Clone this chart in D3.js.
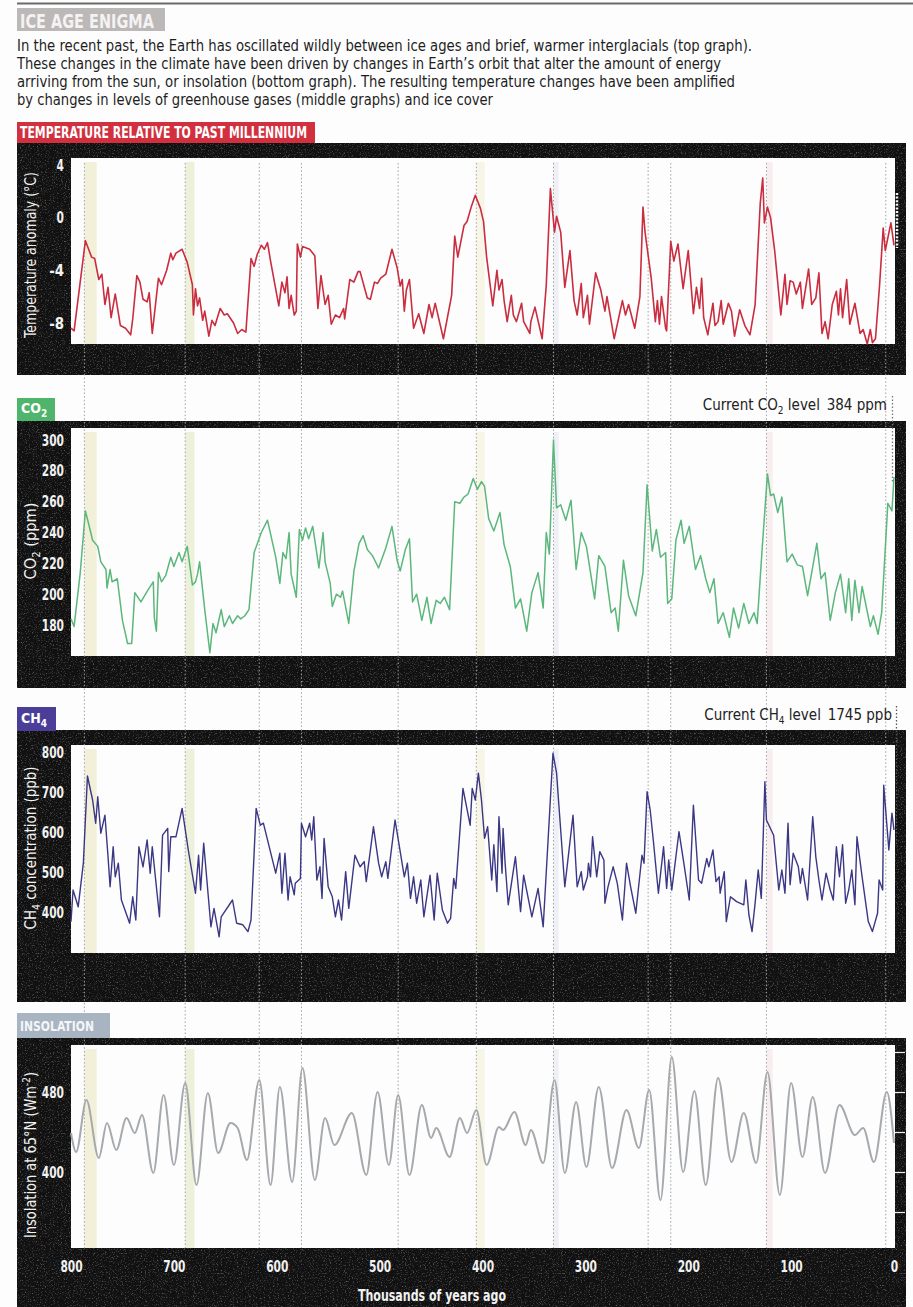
<!DOCTYPE html>
<html><head><meta charset="utf-8">
<script src="https://cdn.jsdelivr.net/npm/d3@7"></script>
<style>html,body{margin:0;padding:0;background:#fff;}svg{display:block;}</style>
</head><body>
<script>
// ---------------- DATA ----------------
const xTicks = [800,700,600,500,400,300,200,100,0];
const tempTicks = [4,0,-4,-8];
const co2Ticks = [300,280,260,240,220,200,180];
const ch4Ticks = [800,700,600,500,400];
const insTicks = [480,400];
const insRightTicks = [520,480,440,400,360];
const interglacials = [787,689,617,576,482,406,331,239,217,124,8];
const bands = [[787,775,'#f3f0da'],[689,680,'#eef1da'],[406,398,'#f7f5e6'],[331,326,'#eef0f6'],[124,118,'#f8edef']];

const tempData = [[800,-8.4],[797,-8.6],[786,-1.75],[780,-3.0],[777,-3.1],[773,-4.7],[770,-4.3],[767,-6.6],[764,-5.3],[761,-7.6],[757,-5.8],[752,-8.2],[747,-8.4],[742,-8.9],[740,-7.7],[736,-4.4],[733,-4.9],[730,-6.2],[726,-6.4],[724,-5.7],[721,-8.8],[715,-4.6],[712,-5.1],[707,-4.0],[703,-2.7],[701,-3.2],[698,-2.7],[692,-2.4],[687,-3.4],[682,-5.1],[681,-7.4],[679,-5.4],[677,-6.7],[675,-6.1],[672,-7.8],[670,-7.1],[666,-9.0],[663,-7.8],[660,-8.2],[655,-6.9],[651,-7.4],[648,-7.3],[642,-8.0],[638,-8.8],[634,-8.5],[630,-8.7],[625,-3.1],[622,-3.7],[619,-2.8],[615,-2.1],[612,-2.4],[609,-1.9],[606,-3.3],[598,-6.7],[595,-4.9],[592,-5.7],[590,-4.5],[588,-6.9],[586,-5.9],[583,-7.4],[581,-7.1],[580,-2.0],[577,-3.0],[575,-2.2],[568,-2.4],[563,-2.9],[560,-6.9],[557,-4.4],[553,-6.6],[550,-5.9],[547,-8.1],[543,-7.4],[539,-7.6],[535,-6.9],[534,-7.7],[529,-4.7],[525,-4.9],[521,-4.1],[519,-4.1],[512,-6.1],[509,-6.2],[505,-4.9],[502,-5.0],[499,-4.6],[494,-4.3],[488,-2.4],[483,-3.8],[480,-5.2],[478,-4.7],[476,-7.1],[474,-5.5],[471,-4.7],[467,-8.4],[462,-7.3],[457,-8.8],[452,-6.6],[449,-7.6],[446,-6.5],[438,-9.2],[430,-5.9],[427,-1.4],[424,-3.0],[418,-0.6],[415,-0.3],[411,0.8],[407,1.7],[402,0.7],[399,-0.3],[396,-3.0],[390,-6.7],[386,-4.0],[384,-5.5],[381,-4.7],[379,-6.3],[376,-7.9],[372,-5.9],[370,-7.4],[367,-7.9],[362,-6.5],[360,-7.9],[354,-8.8],[353,-7.9],[349,-6.8],[342,-9.2],[338,-5.1],[334,2.2],[330,-1.1],[328,0.1],[324,-1.1],[320,-5.3],[315,-2.5],[311,-6.3],[308,-7.4],[304,-5.0],[302,-7.6],[298,-5.9],[296,-8.1],[290,-4.2],[285,-5.5],[281,-7.1],[279,-6.0],[272,-9.2],[264,-6.3],[261,-7.4],[258,-6.6],[252,-8.4],[247,-6.0],[244,0.8],[242,-1.1],[236,-4.6],[232,-7.9],[230,-6.3],[228,-8.1],[226,-6.0],[222,-8.4],[221,-8.6],[217,-1.8],[214,-3.3],[210,-2.0],[205,-5.4],[200,-2.5],[195,-7.3],[192,-5.3],[189,-6.9],[187,-4.6],[185,-7.6],[181,-8.9],[176,-6.5],[174,-8.2],[171,-7.9],[168,-6.3],[166,-8.1],[161,-6.5],[158,-7.1],[155,-9.0],[150,-7.0],[145,-8.2],[140,-8.9],[135,-6.6],[130,1.1],[127.6,3.0],[126,-0.4],[123,0.8],[120,0.0],[116,-2.5],[110,-7.4],[106,-4.3],[104,-6.6],[101,-4.8],[98,-4.9],[95,-5.8],[91,-4.9],[89,-6.9],[83,-3.9],[80,-6.6],[76,-6.1],[73,-4.2],[70,-8.8],[67,-7.9],[64,-9.2],[60,-6.6],[56,-5.6],[54,-7.4],[52,-5.4],[50,-7.6],[46,-4.7],[43,-8.1],[38,-6.5],[33,-8.8],[30,-8.5],[26,-9.6],[23,-8.5],[21,-9.5],[18,-9.2],[14,-5.1],[10.5,-0.8],[8.5,-2.5],[3,-0.4],[0,-2.1]];

const co2Data = [[800,184],[797,179],[791,214],[786,254],[783,246],[779,235],[774,231],[771,221],[766,216],[765,204],[762,216],[760,208],[755,210],[750,183],[745,168],[741,168],[738,201],[732,195],[725,203],[720,208],[719,185],[717,176],[715,214],[712,208],[708,212],[703,224],[700,218],[695,227],[692,221],[687,231],[682,206],[679,208],[677,213],[675,221],[670,190],[665,162],[662,181],[659,175],[654,190],[651,179],[646,186],[643,181],[638,186],[635,184],[631,186],[627,190],[622,227],[615,240],[609,248],[601,224],[597,207],[594,227],[591,223],[588,240],[586,213],[581,198],[578,242],[575,235],[572,243],[569,236],[565,244],[559,217],[555,240],[553,221],[548,207],[546,192],[542,200],[538,198],[536,202],[530,181],[525,215],[520,233],[516,238],[512,229],[507,225],[501,217],[494,230],[488,244],[483,222],[480,215],[475,229],[471,236],[468,195],[464,200],[459,183],[454,198],[450,181],[445,196],[441,194],[437,198],[432,190],[427,260],[422,259],[418,263],[414,265],[409,275],[405,268],[401,273],[398,270],[394,249],[389,241],[383,253],[379,232],[373,218],[368,191],[363,197],[357,176],[352,201],[346,214],[341,191],[338,240],[335,226],[331,300],[328,256],[324,258],[319,248],[314,261],[309,216],[304,240],[299,231],[291,197],[287,225],[281,218],[275,188],[271,191],[268,176],[263,222],[258,199],[251,186],[244,214],[240,271],[235,228],[231,242],[227,224],[222,227],[220,194],[216,197],[212,235],[207,248],[204,233],[199,244],[193,216],[188,225],[183,210],[179,201],[175,210],[171,181],[166,188],[160,172],[156,191],[151,178],[146,194],[141,181],[136,188],[133,181],[128,231],[123,278],[120,264],[117,265],[113,253],[109,263],[104,221],[99,226],[94,219],[89,218],[84,199],[80,214],[75,233],[71,210],[67,214],[62,183],[57,201],[52,213],[47,188],[44,210],[41,183],[38,209],[34,188],[31,205],[23,179],[20,186],[15.5,174],[12,188],[6,259],[2,254],[0,276]];

const ch4Data = [[800,376],[798,455],[793,413],[788,522],[784,740],[779,680],[776,622],[774,688],[771,597],[767,642],[764,538],[762,463],[759,563],[757,488],[754,522],[751,430],[743,372],[740,438],[737,380],[734,563],[730,513],[726,580],[723,497],[721,563],[714,388],[711,592],[706,609],[705,501],[703,588],[698,588],[692,659],[686,555],[679,447],[676,542],[674,455],[671,572],[664,363],[661,409],[656,338],[654,388],[643,430],[639,372],[633,368],[628,351],[625,380],[620,659],[616,617],[613,622],[601,497],[597,547],[595,447],[592,547],[589,430],[587,488],[583,443],[582,472],[577,484],[576,622],[572,588],[568,622],[566,580],[564,638],[561,480],[558,513],[556,434],[554,584],[550,463],[546,438],[543,388],[540,430],[537,380],[533,501],[530,409],[524,542],[519,513],[515,526],[513,476],[506,613],[501,522],[498,488],[494,526],[492,484],[485,630],[476,488],[473,522],[470,434],[467,488],[464,422],[460,480],[457,388],[451,492],[447,380],[444,497],[439,405],[434,372],[431,384],[428,484],[426,459],[419,709],[412,617],[410,709],[407,680],[404,747],[401,680],[398,584],[395,613],[391,480],[389,568],[386,451],[384,638],[381,497],[380,609],[378,522],[375,418],[368,538],[363,401],[360,492],[352,388],[346,459],[341,363],[331.5,797],[328,747],[320,463],[312,642],[308,463],[304,501],[302,455],[298,488],[297,522],[295,488],[293,588],[289,488],[286,551],[282,530],[281,422],[278,463],[273,513],[269,472],[264,380],[260,522],[256,463],[251,397],[245,542],[243,522],[240,701],[237,655],[234,580],[229,447],[224,563],[221,459],[219,530],[216,455],[209,601],[204,517],[199,430],[195,667],[190,480],[187,472],[182,534],[180,513],[176,555],[173,476],[170,488],[169,447],[165,501],[163,376],[159,438],[157,434],[153,426],[146,418],[144,480],[141,392],[138,351],[135,422],[132,505],[129,434],[125.5,726],[124,630],[117,592],[112,455],[109,505],[106,447],[103,622],[101,468],[98,547],[93,513],[91,472],[89,509],[84,430],[79,638],[76,538],[73,480],[70,430],[66,497],[62,455],[59,430],[56,563],[53,488],[50,568],[47,422],[44,455],[41,505],[38,418],[36,588],[31,488],[25,376],[21,351],[16,397],[14.5,480],[11,455],[10,717],[5,555],[2,647],[0,605]];

const insData = [[800,439],[795,420],[785,472],[773,414],[765,449],[756,422],[746,454],[738,439],[731,457],[720,399],[710,477],[700,407],[689,489],[678,387],[667,479],[657,419],[645,449],[638,444],[629,412],[617,492],[606,387],[597,485],[585,390],[575,504],[563,392],[553,454],[544,427],[527,459],[513,397],[502,480],[491,407],[482,477],[471,397],[459,467],[450,434],[445,444],[432,415],[422,454],[415,439],[406,462],[396,407],[384,445],[380,442],[369,460],[358,427],[353,442],[341,409],[330,492],[320,399],[309,470],[299,405],[287,485],[274,404],[260,462],[248,424],[238,482],[227,372],[216,515],[205,400],[194,481],[183,387],[171,494],[158,410],[146,459],[134,409],[123,500],[111,377],[100,489],[89,415],[79,475],[67,399],[53,467],[38,437],[30,444],[19.5,410],[7,480],[0,429]];

const introLines = [
  "In the recent past, the Earth has oscillated wildly between ice ages and brief, warmer interglacials (top graph).",
  "These changes in the climate have been driven by changes in Earth\u2019s orbit that alter the amount of energy",
  "arriving from the sun, or insolation (bottom graph). The resulting temperature changes have been amplified",
  "by changes in levels of greenhouse gases (middle graphs) and ice cover"
];

// ---------------- LAYOUT ----------------
const W = 913, H = 1307;
const F = "'Liberation Sans Narrow','Arial Narrow','DejaVu Sans Condensed',sans-serif";
const svg = d3.select("body").append("svg").attr("width", W).attr("height", H)
  .style("font-family", F);
svg.append("rect").attr("width", W).attr("height", H).attr("fill", "#fdfdfd");

const defs = svg.append("defs");
const flt = defs.append("filter").attr("id","grain").attr("x",0).attr("y",0).attr("width","100%").attr("height","100%");
flt.append("feTurbulence").attr("type","fractalNoise").attr("baseFrequency","0.75").attr("numOctaves",2).attr("seed",5);
flt.append("feColorMatrix").attr("type","matrix").attr("values","0 0 0 0 1  0 0 0 0 1  0 0 0 0 1  0 0 0 3.2 -1.75");

const x = d3.scaleLinear().domain([800,0]).range([71,894]);
const PX0 = 71, PX1 = 895, BX0 = 17, BX1 = 906;
const DIGIT_W = 7.4;

// header
svg.append("line").attr("x1",17).attr("x2",913).attr("y1",3.5).attr("y2",3.5).attr("stroke","#6a6a6a").attr("stroke-width",2);
svg.append("rect").attr("x",17).attr("y",8).attr("width",148).attr("height",23).attr("fill","#bcb8b8");
svg.append("text").attr("x",20).attr("y",27.5).text("ICE AGE ENIGMA").attr("fill","#f4f2f2")
  .attr("font-size",20).attr("font-weight","bold").attr("textLength",134).attr("lengthAdjust","spacingAndGlyphs");
const introW = [735,704,718,476];
introLines.forEach((t,i)=>{
  svg.append("text").attr("x",17).attr("y",50.5 + i*18.3).text(t).attr("fill","#1e1e1e").attr("font-size",16)
    .attr("textLength",introW[i]).attr("lengthAdjust","spacingAndGlyphs");
});

// panels
const panels = [
  {key:"temp", black:[143,375], plot:[158,344], domain:[-9.6,4.53], ticks:tempTicks, data:tempData, color:"#c92d3f", width:1.6},
  {key:"co2", black:[421,688], plot:[428,656], domain:[159.9,307.8], ticks:co2Ticks, data:co2Data, color:"#5bb77c", width:1.5},
  {key:"ch4", black:[730,1002], plot:[745,953], domain:[297.5,817.5], ticks:ch4Ticks, data:ch4Data, color:"#3a3784", width:1.4},
  {key:"ins", black:[1038,1307], plot:[1045,1248], domain:[324,527], ticks:insTicks, data:insData, color:"#a6a9ad", width:2}
];

panels.forEach(p=>{
  p.y = d3.scaleLinear().domain(p.domain).range([p.plot[1], p.plot[0]]);
  svg.append("rect").attr("x",BX0).attr("y",p.black[0]).attr("width",BX1-BX0).attr("height",p.black[1]-p.black[0]).attr("fill","#111");
  svg.append("rect").attr("x",BX0).attr("y",p.black[0]).attr("width",BX1-BX0).attr("height",p.black[1]-p.black[0])
    .attr("fill","#fff").attr("filter","url(#grain)").attr("opacity",0.32);
  svg.append("rect").attr("x",PX0).attr("y",p.plot[0]).attr("width",PX1-PX0).attr("height",p.plot[1]-p.plot[0]).attr("fill","#fdfdfd");
  bands.forEach(b=>{
    svg.append("rect").attr("x",x(b[0])).attr("y",p.plot[0]+4).attr("width",x(b[1])-x(b[0])).attr("height",p.plot[1]-p.plot[0]-4).attr("fill",b[2]);
  });
});

// dotted interglacial lines
interglacials.forEach(k=>{
  svg.append("line").attr("x1",x(k)).attr("x2",x(k)).attr("y1",163).attr("y2",1248)
    .attr("stroke","#a0a0a0").attr("stroke-width",1).attr("stroke-dasharray","1.5,2.2");
});

function styleTickText(sel){
  sel.attr("fill","#f2f2f2").attr("font-size",16).attr("font-weight","bold").style("font-family",F)
    .each(function(){ const n = this.textContent.length; d3.select(this).attr("textLength", n*DIGIT_W).attr("lengthAdjust","spacingAndGlyphs"); });
}

// data lines & axes
panels.forEach(p=>{
  const line = d3.line().x(d=>x(d[0])).y(d=>p.y(d[1]));
  if (p.key==="ins") line.curve(d3.curveMonotoneX);
  svg.append("path").datum(p.data).attr("d",line).attr("fill","none").attr("stroke",p.color)
    .attr("stroke-width",p.width).attr("stroke-linejoin","round");
  const ax = svg.append("g").attr("transform","translate(64,0)")
    .call(d3.axisLeft(p.y).tickValues(p.ticks).tickSize(0).tickPadding(0).tickFormat(d=>String(d)));
  ax.select(".domain").remove();
  styleTickText(ax.selectAll("text"));
});

// right ticks of insolation panel
const insP = panels[3];
const rax = svg.append("g").attr("transform","translate(895,0)")
  .call(d3.axisRight(insP.y).tickValues(insRightTicks).tickSize(10).tickFormat(""));
rax.select(".domain").remove();
rax.selectAll("line").attr("stroke","#eee").attr("stroke-width",1.2);

// x axis
const xax = svg.append("g").attr("transform","translate(0,1261)")
  .call(d3.axisBottom(x).tickValues(xTicks).tickSize(0).tickPadding(0).tickFormat(d=>String(d)));
xax.select(".domain").remove();
styleTickText(xax.selectAll("text"));
svg.append("text").attr("x",432).attr("y",1301).attr("text-anchor","middle").attr("fill","#f2f2f2")
  .attr("font-size",16).attr("font-weight","bold").attr("textLength",148).attr("lengthAdjust","spacingAndGlyphs")
  .text("Thousands of years ago");

// y-axis titles
function ytitle(cy, len){
  return svg.append("text").attr("transform",`translate(36,${cy}) rotate(-90)`).attr("text-anchor","middle")
    .attr("fill","#f2f2f2").attr("font-size",16)
    .attr("textLength",len).attr("lengthAdjust","spacingAndGlyphs");
}
ytitle(255,166).text("Temperature anomaly (\u00b0C)");
{ const t = ytitle(541,77); t.append("tspan").text("CO");
  t.append("tspan").text("2").attr("font-size",11).attr("dy",4);
  t.append("tspan").text(" (ppm)").attr("dy",-4); }
{ const t = ytitle(848,163); t.append("tspan").text("CH");
  t.append("tspan").text("4").attr("font-size",11).attr("dy",4);
  t.append("tspan").text(" concentration (ppb)").attr("dy",-4); }
{ const t = ytitle(1155,166); t.append("tspan").text("Insolation at 65\u00b0N (Wm");
  t.append("tspan").text("-2").attr("font-size",11).attr("dy",-6);
  t.append("tspan").text(")").attr("dy",6); }

// panel labels
svg.append("rect").attr("x",17).attr("y",122).attr("width",298).attr("height",21).attr("fill","#d2303e");
svg.append("text").attr("x",20).attr("y",138).attr("fill","#fff").attr("font-size",15).attr("font-weight","bold")
  .attr("textLength",287).attr("lengthAdjust","spacingAndGlyphs").text("TEMPERATURE RELATIVE TO PAST MILLENNIUM");

svg.append("rect").attr("x",17).attr("y",398).attr("width",38).attr("height",23).attr("fill","#4fb46c");
{ const t = svg.append("text").attr("x",21).attr("y",413).attr("fill","#fff").attr("font-size",14).attr("font-weight","bold");
  t.append("tspan").text("CO"); t.append("tspan").text("2").attr("font-size",10).attr("dy",4); }

svg.append("rect").attr("x",17).attr("y",707).attr("width",39).attr("height",24).attr("fill","#4a3e99");
{ const t = svg.append("text").attr("x",21).attr("y",723).attr("fill","#fff").attr("font-size",14).attr("font-weight","bold");
  t.append("tspan").text("CH"); t.append("tspan").text("4").attr("font-size",10).attr("dy",4); }

svg.append("rect").attr("x",17).attr("y",1013).attr("width",93).attr("height",25).attr("fill","#a8b4c1");
svg.append("text").attr("x",20).attr("y",1031).attr("fill","#f4f6f8").attr("font-size",14).attr("font-weight","bold")
  .attr("textLength",74).attr("lengthAdjust","spacingAndGlyphs").text("INSOLATION");

// current levels
{ const t = svg.append("text").attr("x",887).attr("y",410).attr("text-anchor","end").attr("fill","#222").attr("font-size",15);
  t.append("tspan").text("Current CO"); t.append("tspan").text("2").attr("font-size",10).attr("dy",4);
  t.append("tspan").text(" level\u2002384 ppm").attr("dy",-4); }
svg.append("line").attr("x1",892.5).attr("x2",892.5).attr("y1",396).attr("y2",482).attr("stroke","#777").attr("stroke-width",1.3).attr("stroke-dasharray","1.5,2");
{ const t = svg.append("text").attr("x",892).attr("y",720).attr("text-anchor","end").attr("fill","#222").attr("font-size",15);
  t.append("tspan").text("Current CH"); t.append("tspan").text("4").attr("font-size",10).attr("dy",4);
  t.append("tspan").text(" level\u20021745 ppb").attr("dy",-4); }
svg.append("line").attr("x1",896.5).attr("x2",896.5).attr("y1",706).attr("y2",845).attr("stroke","#555").attr("stroke-width",1.3).attr("stroke-dasharray","1.5,2");
svg.append("line").attr("x1",897).attr("x2",897).attr("y1",193).attr("y2",248).attr("stroke","#f4f4f4").attr("stroke-width",2.5).attr("stroke-dasharray","2,1.6");
</script>
</body></html>
